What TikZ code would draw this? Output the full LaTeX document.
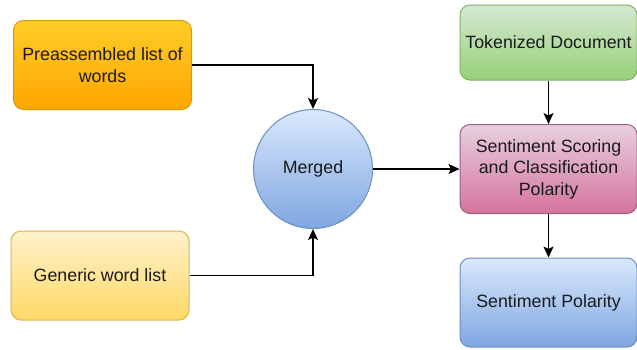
\documentclass[tikz,border=0pt]{standalone}
\usepackage{fontspec}
\setmainfont{Liberation Sans}
\usetikzlibrary{arrows.meta,positioning}
\definecolor{orT}{HTML}{FFCD28}\definecolor{orB}{HTML}{FFA500}\definecolor{orS}{HTML}{D79B00}
\definecolor{yeT}{HTML}{FFF2CC}\definecolor{yeB}{HTML}{FFD966}\definecolor{yeS}{HTML}{D6B656}
\definecolor{blT}{HTML}{DAE8FC}\definecolor{blB}{HTML}{7EA6E0}\definecolor{blS}{HTML}{6C8EBF}
\definecolor{grT}{HTML}{D5E8D4}\definecolor{grB}{HTML}{97D077}\definecolor{grS}{HTML}{82B366}
\definecolor{piT}{HTML}{E6D0DE}\definecolor{piB}{HTML}{D5739D}\definecolor{piS}{HTML}{996185}
\definecolor{txt}{HTML}{1A1A1A}
\tikzset{
  box/.style={rounded corners=10pt, line width=1pt, minimum width=178pt, minimum height=89pt,
    align=center, text=txt, font=\fontsize{17.8}{21.5}\selectfont, inner sep=2pt},
  orbox/.style={box, draw=orS, top color=orT, bottom color=orB},
  yebox/.style={box, draw=yeS, top color=yeT, bottom color=yeB},
  blbox/.style={box, draw=blS, top color=blT, bottom color=blB},
  grbox/.style={box, draw=grS, top color=grT, bottom color=grB},
  pibox/.style={box, draw=piS, top color=piT, bottom color=piB},
  conn/.style={line width=1.5pt, -{Stealth[length=11pt,width=10pt,inset=2.5pt]}}
}
\begin{document}
\begin{tikzpicture}[x=1pt,y=-1pt]
\useasboundingbox[fill=white] (0,0) rectangle (637,349);
\node[orbox] (pre) at (102.5,65) {Preassembled list of\\words};
\node[yebox] (gen) at (100,275.5) {Generic word list};
\node[circle, line width=1pt, draw=blS, top color=blT, bottom color=blB, minimum size=119pt,
  text=txt, font=\fontsize{17.8}{21.5}\selectfont, inner sep=0pt] (mer) at (313,169) {Merged};
\node[grbox, minimum height=75pt, minimum width=177pt] (tok) at (548.5,42.5) {Tokenized Document};
\node[pibox, minimum width=177pt] (sco) at (548.5,169) {Sentiment Scoring\\and Classification\\Polarity};
\node[blbox, minimum width=177pt] (pol) at (548.5,302.5) {Sentiment Polarity};
\draw[conn] (pre.east) -| (mer.north);
\draw[conn] (gen.east) -| (mer.south);
\draw[conn] (mer.east) -- (sco.west);
\draw[conn] (tok.south) -- (sco.north);
\draw[conn] (sco.south) -- (pol.north);
\end{tikzpicture}
\end{document}
